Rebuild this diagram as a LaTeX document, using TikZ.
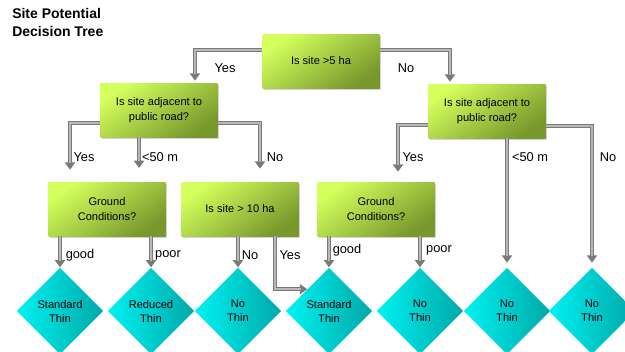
\documentclass[tikz,border=0pt]{standalone}
\usepackage{fontspec}
\setmainfont{Liberation Sans}
\usetikzlibrary{shapes.geometric,arrows.meta,shadows}
\definecolor{gLight}{HTML}{D4FF5C}
\definecolor{gDark}{HTML}{78982C}
\definecolor{cLight}{HTML}{00F2F2}
\definecolor{cDark}{HTML}{00A8A8}
\definecolor{aOut}{HTML}{7A7A7A}
\definecolor{aIn}{HTML}{B8B8B8}
\begin{document}
\begin{tikzpicture}[x=0.75pt,y=-0.75pt,
  qbox/.style={rectangle, minimum width=87.75pt, minimum height=40.5pt, inner sep=1pt,
    align=center, font=\fontsize{8.3}{11.5}\selectfont,
    top color=gLight, bottom color=gDark, shading angle=35,
    drop shadow={opacity=0.35, shadow xshift=1.2pt, shadow yshift=-1.2pt}},
  leaf/.style={diamond, aspect=1, minimum width=65pt, minimum height=65pt, inner sep=0pt,
    align=center, font=\fontsize{8.3}{10.5}\selectfont,
    left color=cLight, middle color=cLight!80!cDark, right color=cDark},
  lbl/.style={font=\fontsize{9.6}{11}\selectfont, inner sep=0pt},
  arr/.style={draw=aIn, line width=1.3pt, shorten >=5pt,
    preaction={draw=aOut, line width=3pt, shorten >=0pt, -{Triangle[length=5.5pt,width=7.5pt]}}}
]
\useasboundingbox (0,0) rectangle (625,351);

\node[anchor=north west, align=left, inner sep=0pt,
  font=\bfseries\fontsize{10.5}{13.5}\selectfont] (title) at (12,8) {Site Potential\\Decision Tree};

% question boxes
\node[qbox] (top) at (321,61) {Is site >5 ha};
\node[qbox] (l2L) at (159,110) {Is site adjacent to\\public road?};
\node[qbox] (l2R) at (487,111) {Is site adjacent to\\public road?};
\node[qbox] (gcL) at (107,209) {Ground\\Conditions?};
\node[qbox] (big) at (240,209) {Is site > 10 ha};
\node[qbox] (gcR) at (376,209) {Ground\\Conditions?};

% leaves
\node[leaf] (d1) at (60,311) {Standard\\Thin};
\node[leaf] (d2) at (151,311) {Reduced\\Thin};
\node[leaf] (d3) at (238,311) {No\\Thin};
\node[leaf] (d4) at (329,311) {Standard\\Thin};
\node[leaf] (d5) at (420,311) {No\\Thin};
\node[leaf] (d6) at (507,311) {No\\Thin};
\node[leaf] (d7) at (592,311) {No\\Thin};

\coordinate (e50L) at (139,168);

% connectors
\draw[arr] ([yshift=8.25pt]top.west) -| ([xshift=27pt,yshift=1.5pt]l2L.north);
\draw[arr] ([yshift=8.25pt]top.east) -| ([xshift=-27.75pt,yshift=1.5pt]l2R.north);
\draw[arr] ([yshift=-9.75pt]l2L.west) -| ([xshift=-27.75pt,yshift=9pt]gcL.north);
\draw[arr] (l2L.south -| e50L) -- (e50L);
\draw[arr] ([yshift=-9.75pt]l2L.east) -| ([xshift=15pt,yshift=9.75pt]big.north);
\draw[arr] ([yshift=-10.5pt]l2R.west) -| ([xshift=16.5pt,yshift=7.5pt]gcR.north);
\draw[arr] (l2R.south -| d6.north) -- ([yshift=3.5pt]d6.north);
\draw[arr] ([yshift=-11.25pt]l2R.east) -| ([yshift=3.5pt]d7.north);
\draw[arr] (gcL.south -| d1.north) -- (d1.north);
\draw[arr] (gcL.south -| d2.north) -- (d2.north);
\draw[arr] (big.south -| d3.north) -- (d3.north);
\draw[arr] ([xshift=26.25pt]big.south) |- (d4.north west);
\draw[arr] (gcR.south -| d4.north) -- (d4.north);
\draw[arr] (gcR.south -| d5.north) -- (d5.north);

% labels
\node[lbl] (t1) at (225,68) {Yes};
\node[lbl] (t2) at (406,68) {No};
\node[lbl] (t3) at (84,157) {Yes};
\node[lbl] (t4) at (160,157) {<50 m};
\node[lbl] (t5) at (275,157) {No};
\node[lbl] (t6) at (413,157) {Yes};
\node[lbl] (t7) at (530,157) {<50 m};
\node[lbl] (t8) at (608,157) {No};
\node[lbl] (t9) at (80,255) {good};
\node[lbl] (t10) at (168,255) {poor};
\node[lbl] (t11) at (250,255) {No};
\node[lbl] (t12) at (290,255) {Yes};
\node[lbl] (t13) at (347,250) {good};
\node[lbl] (t14) at (439,250) {poor};
\end{tikzpicture}
\end{document}
